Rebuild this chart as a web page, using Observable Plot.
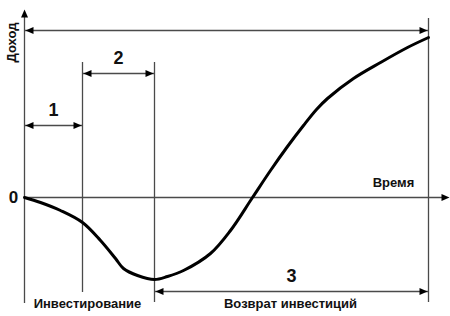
<!DOCTYPE html>
<html>
<head>
<meta charset="utf-8">
<script src="https://cdn.jsdelivr.net/npm/d3@7"></script>
<script src="https://cdn.jsdelivr.net/npm/@observablehq/plot@0.6"></script>
<style>
  html, body { margin: 0; padding: 0; background: #fff; }
  #chart svg { display: block; }
</style>
</head>
<body>
<div id="chart"></div>
<script>
// Income curve over time (schematic units)
const time   = [0, 16, 36, 58, 76, 91, 99, 113, 130, 143, 159, 186, 206, 228, 246, 263, 279, 292, 303, 329, 356, 383, 404];
const income = [0, -5, -13, -25, -43, -61, -71, -78, -82, -79, -73, -56, -33, 0, 27, 51, 72, 88, 99, 119, 135, 150, 160];

// Phase boundaries on the time axis
const boundaries = [0, 58, 130, 404];
const phaseLabels = ["1", "2", "3"];
const phaseArrowLevels = [72, 124, -94];
const topArrowLevel = 167;
const axisLabels = ["Доход", "Время", "0"];
const periodLabels = ["Инвестирование", "Возврат инвестиций"];

const curve = time.map((t, i) => ({t, v: income[i]}));

const FONT = "Liberation Sans, Arial, sans-serif";
const LINE = "#4a4a4a";

// filled arrowheads, tip at the origin
const headRight = {draw(ctx) { ctx.moveTo(0, 0); ctx.lineTo(-8, -3.5); ctx.lineTo(-8, 3.5); ctx.closePath(); }};
const headLeft  = {draw(ctx) { ctx.moveTo(0, 0); ctx.lineTo(8, -3.5); ctx.lineTo(8, 3.5); ctx.closePath(); }};
const headUp    = {draw(ctx) { ctx.moveTo(0, 0); ctx.lineTo(-3.5, 8); ctx.lineTo(3.5, 8); ctx.closePath(); }};

const phaseArrows = phaseLabels.map((lab, i) => ({
  x1: boundaries[i], x2: boundaries[i + 1], y: phaseArrowLevels[i], label: lab
}));
const topArrow = [{x1: boundaries[0], x2: boundaries[3], y: topArrowLevel}];
const allArrows = [...phaseArrows, ...topArrow];

const verticals = [
  {x: boundaries[1], y1: -95, y2: 135},
  {x: boundaries[2], y1: -105, y2: 135},
  {x: boundaries[3], y1: -105, y2: 179}
];

const chart = Plot.plot({
  width: 450,
  height: 316,
  margin: 0,
  x: {domain: [-24, 426], range: [0, 450], axis: null},
  y: {domain: [-119, 197], range: [316, 0], axis: null},
  style: {fontFamily: FONT, background: "#fff"},
  marks: [
    // axes
    Plot.ruleX([0], {y1: -106, y2: 182, stroke: LINE, strokeWidth: 1.3}),
    Plot.ruleY([0], {x1: 0, x2: 418, stroke: LINE, strokeWidth: 1.3}),
    Plot.dot([{x: 0, y: 188}], {x: "x", y: "y", symbol: headUp, fill: "#000", stroke: null}),
    Plot.dot([{x: 425, y: 0}], {x: "x", y: "y", symbol: headRight, fill: "#000", stroke: null}),
    // vertical boundaries
    Plot.ruleX(verticals, {x: "x", y1: "y1", y2: "y2", stroke: LINE, strokeWidth: 1.3}),
    // dimension arrows
    Plot.ruleY(allArrows, {y: "y", x1: "x1", x2: "x2", stroke: LINE, strokeWidth: 1.3}),
    Plot.dot(allArrows, {x: d => d.x1 + 1, y: "y", symbol: headLeft, fill: "#000", stroke: null}),
    Plot.dot(allArrows, {x: d => d.x2 - 1, y: "y", symbol: headRight, fill: "#000", stroke: null}),
    Plot.text(phaseArrows, {x: d => (d.x1 + d.x2) / 2, y: "y", text: "label", dy: -15,
      fontSize: 18, fontWeight: "bold", fill: "#111"}),
    // curve
    Plot.line(curve, {x: "t", y: "v", curve: "catmull-rom", stroke: "#000", strokeWidth: 3}),
    // texts
    Plot.text([axisLabels[0]], {x: -13, y: 155, text: d => d, rotate: -90, fontSize: 13, fontWeight: "bold", fill: "#111"}),
    Plot.text([axisLabels[1]], {x: 369, y: 15, text: d => d, fontSize: 13, fontWeight: "bold", fill: "#111"}),
    Plot.text([axisLabels[2]], {x: -11, y: 0, text: d => d, fontSize: 17, fontWeight: "bold", fill: "#111"}),
    Plot.text([periodLabels[0]], {x: 63, y: -106, text: d => d, fontSize: 13, fontWeight: "bold", fill: "#111"}),
    Plot.text([periodLabels[1]], {x: 266, y: -106, text: d => d, fontSize: 13, fontWeight: "bold", fill: "#111"})
  ]
});
document.getElementById("chart").appendChild(chart);
</script>
</body>
</html>
